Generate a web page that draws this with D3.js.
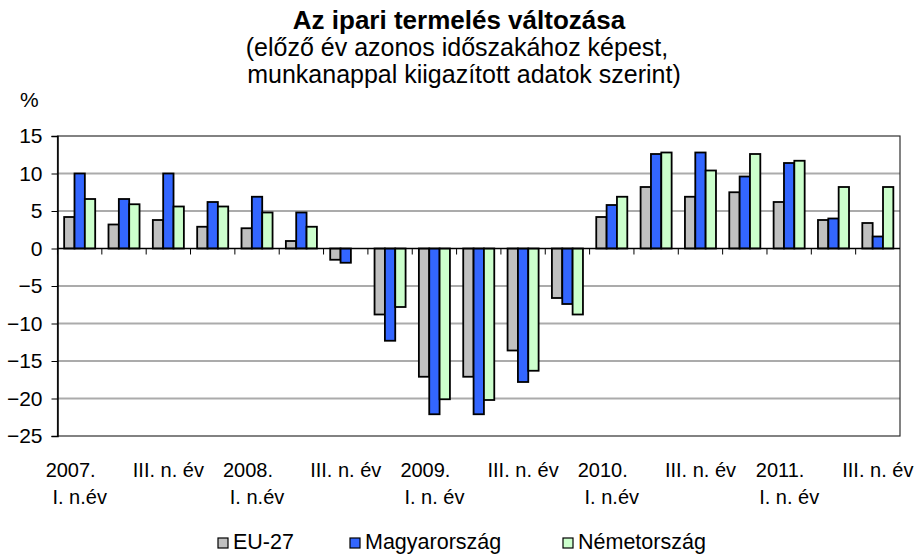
<!DOCTYPE html>
<html>
<head>
<meta charset="utf-8">
<script src="https://cdn.jsdelivr.net/npm/d3@7"></script>
<style>
  body { margin: 0; background: #fff; }
  svg { display: block; font-family: "Liberation Sans", Arial, sans-serif; }
</style>
</head>
<body>
<div id="chart"></div>
<script>
var width = 914,
    height = 554;

// quarters 2007 Q1 .. 2011 Q3
var quarters = ["2007Q1", "2007Q2", "2007Q3", "2007Q4",
                "2008Q1", "2008Q2", "2008Q3", "2008Q4",
                "2009Q1", "2009Q2", "2009Q3", "2009Q4",
                "2010Q1", "2010Q2", "2010Q3", "2010Q4",
                "2011Q1", "2011Q2", "2011Q3"];

var seriesNames = ["EU-27", "Magyarország", "Németország"];

var eu27 = [4.2, 3.2, 3.8, 2.9, 2.7, 1.0, -1.5, -8.8, -17.1, -17.1, -13.6, -6.6, 4.2, 8.2, 6.9, 7.5, 6.2, 3.8, 3.4];
var hungary = [10.0, 6.6, 10.0, 6.2, 6.9, 4.8, -1.9, -12.3, -22.1, -22.1, -17.8, -7.4, 5.8, 12.6, 12.8, 9.6, 11.4, 4.0, 1.6];
var germany = [6.6, 5.9, 5.6, 5.6, 4.8, 2.9, 0, -7.8, -20.1, -20.2, -16.3, -8.8, 6.9, 12.8, 10.4, 12.6, 11.7, 8.2, 8.2];

// year label (first line) and quarter label
var yearLabels = ["2007.", "", "", "", "2008.", "", "", "", "2009.", "", "", "", "2010.", "", "", "", "2011.", "", ""];
var quarterLabels = ["I. n.év", "", "III. n. év", "", "I. n.év", "", "III. n. év", "", "I. n. év", "", "III. n. év", "",
                     "I. n.év", "", "III. n. év", "", "I. n. év", "", "III. n. év"];

var yTicks = [15, 10, 5, 0, -5, -10, -15, -20, -25];

var colors = ["#c0c0c0", "#3366ff", "#ccffcc"];

var plot = { left: 57.5, right: 900, top: 136, bottom: 436 };

var svg = d3.select("#chart").append("svg")
    .attr("width", width)
    .attr("height", height);

var x = d3.scaleBand()
    .domain(quarters)
    .range([plot.left, plot.right])
    .paddingInner(0.3)
    .paddingOuter(0.15);

var x1 = d3.scaleBand()
    .domain(seriesNames)
    .range([0, x.bandwidth()]);

var y = d3.scaleLinear()
    .domain([-25, 15])
    .range([plot.bottom, plot.top]);

// gridlines
svg.append("g")
    .selectAll("line")
    .data(yTicks.filter(function(d) { return d !== 15 && d !== -25 && d !== 0; }))
    .enter().append("line")
    .attr("x1", plot.left)
    .attr("x2", plot.right)
    .attr("y1", function(d) { return y(d); })
    .attr("y2", function(d) { return y(d); })
    .attr("stroke", "#ababab")
    .attr("stroke-width", 2);

// plot frame
svg.append("rect")
    .attr("x", plot.left)
    .attr("y", plot.top)
    .attr("width", plot.right - plot.left)
    .attr("height", plot.bottom - plot.top)
    .attr("fill", "none")
    .attr("stroke", "#303030")
    .attr("stroke-width", 1.2);

// y axis
var yAxis = d3.axisLeft(y)
    .tickValues(yTicks)
    .tickSize(6)
    .tickPadding(9);

var yg = svg.append("g")
    .attr("transform", "translate(" + plot.left + ",0)")
    .call(yAxis);
yg.select(".domain").attr("stroke", "#000").attr("stroke-width", 1.5);
yg.selectAll(".tick line").attr("stroke", "#000");
yg.selectAll("text")
    .attr("font-size", 21)
    .attr("font-family", "Liberation Sans, Arial, sans-serif")
    .attr("fill", "#000");

// bars
var groups = svg.append("g")
    .selectAll("g")
    .data(quarters)
    .enter().append("g")
    .attr("transform", function(d) { return "translate(" + x(d) + ",0)"; });

groups.selectAll("rect")
    .data(function(d, i) {
        return [
            { name: seriesNames[0], value: eu27[i], c: 0 },
            { name: seriesNames[1], value: hungary[i], c: 1 },
            { name: seriesNames[2], value: germany[i], c: 2 }
        ];
    })
    .enter().append("rect")
    .filter(function(d) { return d.value !== 0; })
    .attr("x", function(d) { return x1(d.name); })
    .attr("width", x1.bandwidth())
    .attr("y", function(d) { return y(Math.max(0, d.value)); })
    .attr("height", function(d) { return Math.abs(y(d.value) - y(0)); })
    .attr("fill", function(d) { return colors[d.c]; })
    .attr("stroke", "#000")
    .attr("stroke-width", 1.8);

// zero axis with category ticks
svg.append("line")
    .attr("x1", plot.left)
    .attr("x2", plot.right)
    .attr("y1", y(0))
    .attr("y2", y(0))
    .attr("stroke", "#000")
    .attr("stroke-width", 1.5);

svg.append("g")
    .selectAll("line")
    .data(quarters)
    .enter().append("line")
    .attr("x1", function(d) { return x(d) - x.step() * x.paddingInner() / 2; })
    .attr("x2", function(d) { return x(d) - x.step() * x.paddingInner() / 2; })
    .attr("y1", y(0))
    .attr("y2", y(0) + 6)
    .attr("stroke", "#000")
    .attr("stroke-width", 1);

// category labels
var labels = svg.append("g")
    .attr("font-size", 20)
    .attr("text-anchor", "middle")
    .attr("fill", "#000");

quarters.forEach(function(q, i) {
    var cx = x(q) + x.bandwidth() / 2;
    if (yearLabels[i]) {
        labels.append("text").attr("x", cx - 9).attr("y", 477).text(yearLabels[i]);
        labels.append("text").attr("x", cx).attr("y", 504).text(quarterLabels[i]);
    } else if (quarterLabels[i]) {
        labels.append("text").attr("x", cx).attr("y", 477).text(quarterLabels[i]);
    }
});

// titles
svg.append("text")
    .attr("x", 459)
    .attr("y", 29)
    .attr("text-anchor", "middle")
    .attr("font-size", 26)
    .attr("font-weight", "bold")
    .text("Az ipari termelés változása");

svg.append("text")
    .attr("x", 457)
    .attr("y", 56)
    .attr("text-anchor", "middle")
    .attr("font-size", 25)
    .text("(előző év azonos időszakához képest,");

svg.append("text")
    .attr("x", 464)
    .attr("y", 83)
    .attr("text-anchor", "middle")
    .attr("font-size", 25)
    .text("munkanappal kiigazított adatok szerint)");

svg.append("text")
    .attr("x", 20)
    .attr("y", 107)
    .attr("font-size", 21)
    .text("%");

// legend
var legendX = [218, 350, 563];
var legend = svg.append("g")
    .selectAll("g")
    .data(seriesNames)
    .enter().append("g")
    .attr("transform", function(d, i) { return "translate(" + legendX[i] + ",538)"; });

legend.append("rect")
    .attr("width", 10)
    .attr("height", 10)
    .attr("fill", function(d, i) { return colors[i]; })
    .attr("stroke", "#000")
    .attr("stroke-width", 1.2);

legend.append("text")
    .attr("x", 15)
    .attr("y", 11)
    .attr("font-size", 21.5)
    .text(function(d) { return d; });
</script>
</body>
</html>
